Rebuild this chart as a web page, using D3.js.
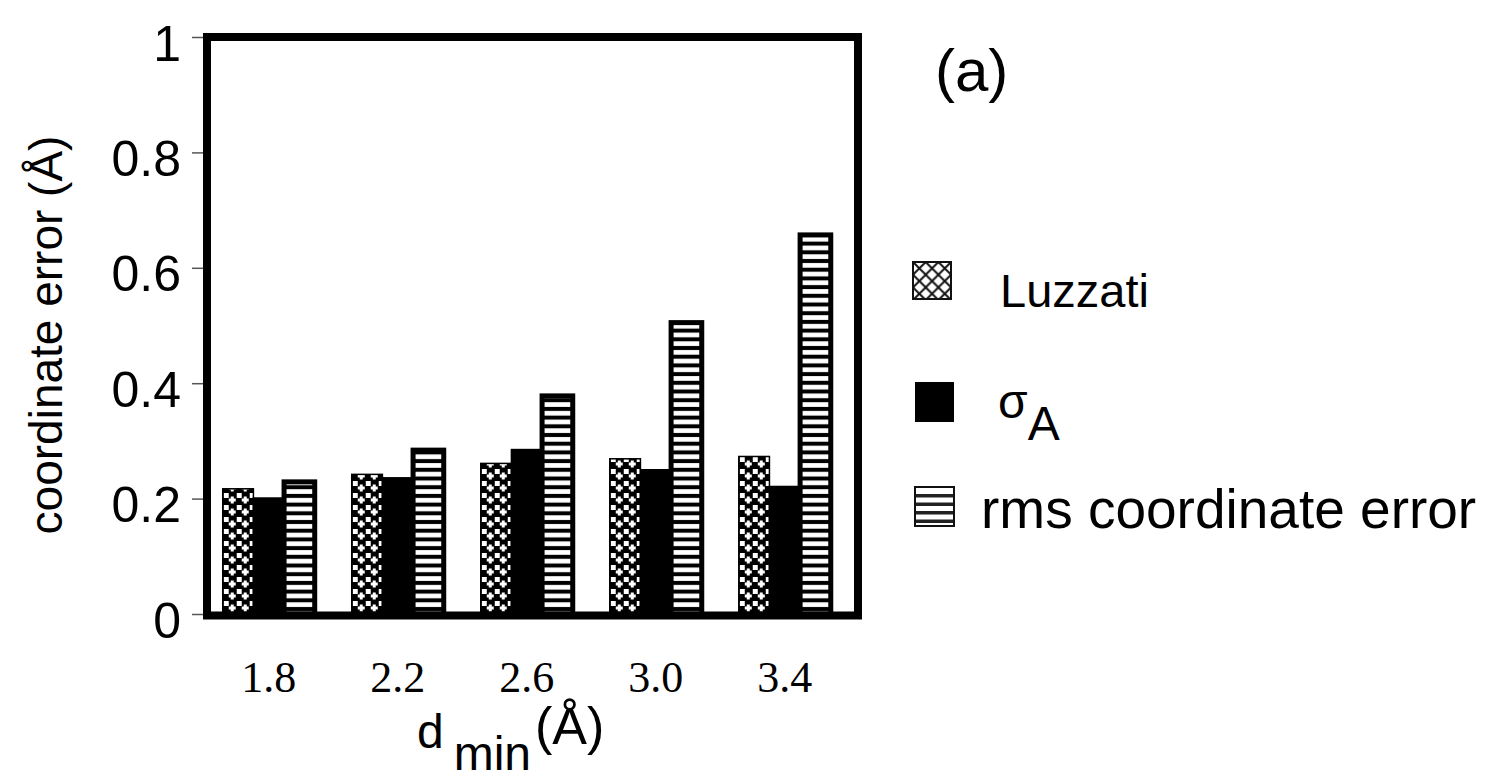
<!DOCTYPE html>
<html>
<head>
<meta charset="utf-8">
<script src="https://cdn.jsdelivr.net/npm/d3@7"></script>
<style>
  body { margin: 0; background: #fff; }
  svg { display: block; }
  .sans { font-family: "Liberation Sans", Arial, sans-serif; }
  .serif { font-family: "Liberation Serif", "Times New Roman", serif; }
</style>
</head>
<body>
<svg id="chart" width="1487" height="780"></svg>
<script>
// data
const dmin = ['1.8', '2.2', '2.6', '3.0', '3.4'];
const series = ['luzzati', 'sigmaA', 'rms'];
const luzzati = [0.217, 0.242, 0.261, 0.269, 0.273];
const sigmaA = [0.201, 0.236, 0.285, 0.250, 0.221];
const rms = [0.229, 0.284, 0.378, 0.505, 0.657];
const yTicks = [0, 0.2, 0.4, 0.6, 0.8, 1];

const svg = d3.select('#chart');

const frame = {left: 207, right: 858, top: 37, bottom: 614};

const y = d3.scaleLinear().domain([0, 1]).range([614, 37]);

const x = d3.scaleBand()
	.domain(dmin)
	.range([203, 850.5])
	.paddingInner(0.287)
	.paddingOuter(0.153);

const xs = d3.scaleBand()
	.domain(series)
	.range([0, x.bandwidth()]);

// patterns
const defs = svg.append('defs');

const dots = defs.append('pattern')
	.attr('id', 'dots')
	.attr('patternUnits', 'userSpaceOnUse')
	.attr('width', 13).attr('height', 12);
dots.append('rect').attr('width', 13).attr('height', 12).attr('fill', '#000');
dots.append('rect').attr('x', 1).attr('y', 1).attr('width', 5).attr('height', 5).attr('fill', '#fff');
dots.append('rect').attr('x', 8).attr('y', 4.5).attr('width', 3).attr('height', 7).attr('fill', '#fff');
dots.append('rect').attr('x', 6).attr('y', 6.5).attr('width', 7).attr('height', 3).attr('fill', '#fff');

const stripes = defs.append('pattern')
	.attr('id', 'stripes')
	.attr('patternUnits', 'userSpaceOnUse')
	.attr('width', 20).attr('height', 8.7);
stripes.append('rect').attr('width', 20).attr('height', 8.7).attr('fill', '#000');
stripes.append('rect').attr('y', 2).attr('width', 20).attr('height', 4.7).attr('fill', '#fff');

const hatch = defs.append('pattern')
	.attr('id', 'hatch')
	.attr('patternUnits', 'userSpaceOnUse')
	.attr('x', 913).attr('y', 262)
	.attr('width', 12.7).attr('height', 12.7);
hatch.append('rect').attr('width', 12.7).attr('height', 12.7).attr('fill', '#fff');
hatch.append('path')
	.attr('d', 'M0,0L12.7,12.7M12.7,0L0,12.7')
	.attr('stroke', '#111').attr('stroke-width', 2);

const fills = {luzzati: 'url(#dots)', sigmaA: '#000', rms: 'url(#stripes)'};

const rows = dmin.map((d, i) => ({
	d: d,
	values: [
		{key: 'luzzati', value: luzzati[i]},
		{key: 'sigmaA', value: sigmaA[i]},
		{key: 'rms', value: rms[i]}
	]
}));

// bars
const groups = svg.append('g').attr('class', 'bars')
	.selectAll('g')
	.data(rows)
	.enter().append('g')
	.attr('transform', (d) => { return 'translate(' + x(d.d) + ',0)'; });

groups.selectAll('rect')
	.data((d) => { return d.values; })
	.enter().append('rect')
	.attr('x', (d) => { return xs(d.key); })
	.attr('y', (d) => { return y(d.value); })
	.attr('width', xs.bandwidth())
	.attr('height', (d) => { return y(0) - y(d.value); })
	.attr('fill', (d) => { return fills[d.key]; })
	.attr('stroke', '#000')
	.attr('stroke-width', (d) => { return d.key === 'rms' ? 5 : 1.5; });

// y axis
const yAxis = svg.append('g')
	.attr('class', 'sans')
	.attr('transform', 'translate(203,0)')
	.call(d3.axisLeft(y).tickValues(yTicks).tickSize(11).tickPadding(11)
		.tickFormat((d) => { return d === 0 || d === 1 ? d3.format('d')(d) : d3.format('.1f')(d); }));
yAxis.select('.domain').remove();
yAxis.selectAll('.tick line').attr('stroke', '#555').attr('stroke-width', 1.5);
yAxis.selectAll('.tick text')
	.attr('font-family', '"Liberation Sans", Arial, sans-serif')
	.attr('font-size', 50)
	.attr('fill', '#000')
	.attr('y', 7);

// x axis labels
const xAxis = svg.append('g')
	.attr('transform', 'translate(0,' + frame.bottom + ')')
	.call(d3.axisBottom(x).tickSize(0).tickPadding(78));
xAxis.select('.domain').remove();
xAxis.selectAll('.tick text')
	.attr('font-family', '"Liberation Serif", "Times New Roman", serif')
	.attr('font-size', 44)
	.attr('fill', '#000')
	.attr('dy', 0);

// frame
svg.append('rect')
	.attr('x', frame.left)
	.attr('y', frame.top)
	.attr('width', frame.right - frame.left)
	.attr('height', frame.bottom - frame.top + 1.5)
	.attr('fill', 'none')
	.attr('stroke', '#000')
	.attr('stroke-width', 8);

// axis titles
svg.append('text')
	.attr('class', 'sans')
	.attr('transform', 'translate(62,335) rotate(-90)')
	.attr('text-anchor', 'middle')
	.attr('font-size', 46)
	.text('coordinate error (Å)');

const xt = svg.append('text')
	.attr('class', 'sans')
	.attr('x', 417)
	.attr('y', 748)
	.attr('font-size', 48);
xt.append('tspan').text('d');
xt.append('tspan').attr('dx', 10).attr('dy', 22).text('min');
xt.append('tspan').attr('dx', 4).attr('dy', -26).attr('font-size', 52).text('(Å)');

svg.append('text')
	.attr('class', 'sans')
	.attr('x', 935)
	.attr('y', 91)
	.attr('font-size', 60)
	.text('(a)');

// legend
const legend = svg.append('g').attr('class', 'legend');

legend.append('rect')
	.attr('x', 913).attr('y', 262).attr('width', 38).attr('height', 37)
	.attr('fill', 'url(#hatch)').attr('stroke', '#111').attr('stroke-width', 2);
legend.append('text')
	.attr('class', 'sans')
	.attr('x', 1000).attr('y', 307)
	.attr('font-size', 47)
	.text('Luzzati');

legend.append('rect')
	.attr('x', 915).attr('y', 382).attr('width', 39).attr('height', 40)
	.attr('fill', '#000');
const sig = legend.append('text')
	.attr('class', 'sans')
	.attr('x', 998).attr('y', 418)
	.attr('font-size', 48);
sig.append('tspan').text('σ');
sig.append('tspan').attr('dy', 22).text('A');

legend.append('rect')
	.attr('x', 915).attr('y', 487).attr('width', 39).attr('height', 39)
	.attr('fill', '#fff').attr('stroke', '#111').attr('stroke-width', 2);
legend.selectAll('.lstripe')
	.data([0, 1, 2, 3])
	.enter().append('rect')
	.attr('class', 'lstripe')
	.attr('x', 916).attr('width', 37)
	.attr('y', (d) => { return 494 + d * 8.5; })
	.attr('height', 3.5)
	.attr('fill', '#222');
legend.append('text')
	.attr('class', 'sans')
	.attr('x', 981).attr('y', 528)
	.attr('font-size', 55)
	.text('rms coordinate error');
</script>
</body>
</html>
